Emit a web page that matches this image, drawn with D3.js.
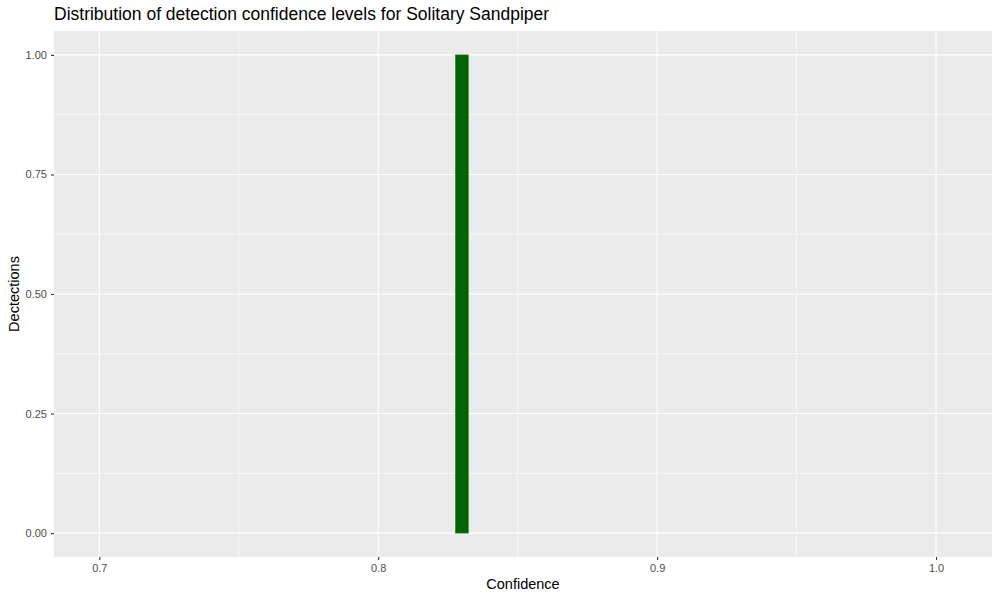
<!DOCTYPE html>
<html><head><meta charset="utf-8">
<script src="https://cdn.jsdelivr.net/npm/d3@7"></script>
<style>body{margin:0;background:#fff}svg{display:block}text{font-family:"Liberation Sans",Arial,sans-serif}</style>
</head><body><svg id="c" width="1000" height="600"></svg>
<script>
const binStart = [0.8277];
const binEnd = [0.8323];
const counts = [1];
const xTicks = [0.7, 0.8, 0.9, 1.0];
const xMinor = [0.75, 0.85, 0.95];
const yTicks = [0, 0.25, 0.5, 0.75, 1];
const yMinor = [0.125, 0.375, 0.625, 0.875];

const svg = d3.select("#c");
const L = 54, R = 992, T = 31, B = 557;
const x = d3.scaleLinear().domain([0.68376, 1.02007]).range([L, R]);
const y = d3.scaleLinear().domain([-0.05, 1.05]).range([B, T]);

svg.append("rect").attr("x", L).attr("y", T).attr("width", R - L).attr("height", B - T).attr("fill", "#ebebeb");
const g = svg.append("g");
g.selectAll(".xm").data(xMinor).join("line").attr("x1", d => x(d)).attr("x2", d => x(d)).attr("y1", T).attr("y2", B).attr("stroke", "#fff").attr("stroke-width", 0.55);
g.selectAll(".ym").data(yMinor).join("line").attr("y1", d => y(d)).attr("y2", d => y(d)).attr("x1", L).attr("x2", R).attr("stroke", "#fff").attr("stroke-width", 0.55);
g.selectAll(".xM").data(xTicks).join("line").attr("x1", d => x(d)).attr("x2", d => x(d)).attr("y1", T).attr("y2", B).attr("stroke", "#fff").attr("stroke-width", 1.1);
g.selectAll(".yM").data(yTicks).join("line").attr("y1", d => y(d)).attr("y2", d => y(d)).attr("x1", L).attr("x2", R).attr("stroke", "#fff").attr("stroke-width", 1.1);

svg.selectAll(".bar").data(counts).join("rect")
  .attr("x", (d, i) => x(binStart[i])).attr("width", (d, i) => x(binEnd[i]) - x(binStart[i]))
  .attr("y", d => y(d)).attr("height", d => y(0) - y(d))
  .attr("fill", "#006400").attr("stroke", "#2b7d2b").attr("stroke-width", 0.6);

const xa = svg.append("g").attr("transform", `translate(0,${B})`)
  .call(d3.axisBottom(x).tickValues(xTicks).tickFormat(d3.format(".1f")).tickSize(3).tickPadding(4));
const ya = svg.append("g").attr("transform", `translate(${L},0)`)
  .call(d3.axisLeft(y).tickValues(yTicks).tickFormat(d3.format(".2f")).tickSize(3).tickPadding(4));
[xa, ya].forEach(a => {
  a.select(".domain").remove();
  a.selectAll(".tick line").attr("stroke", "#333").attr("stroke-width", 1.1);
  a.selectAll(".tick text").attr("fill", "#4d4d4d").style("font-size", "11px").style("font-family", "'Liberation Sans',Arial,sans-serif");
});

svg.append("text").attr("x", L).attr("y", 20).attr("font-size", 17.5).attr("fill", "#000").text("Distribution of detection confidence levels for Solitary Sandpiper");
svg.append("text").attr("x", (L + R) / 2).attr("y", 589).attr("text-anchor", "middle").attr("font-size", 14.5).attr("fill", "#000").text("Confidence");
svg.append("text").attr("transform", `translate(19,${(T + B) / 2}) rotate(-90)`).attr("text-anchor", "middle").attr("font-size", 14.5).attr("fill", "#000").text("Dectections");
</script></body></html>
